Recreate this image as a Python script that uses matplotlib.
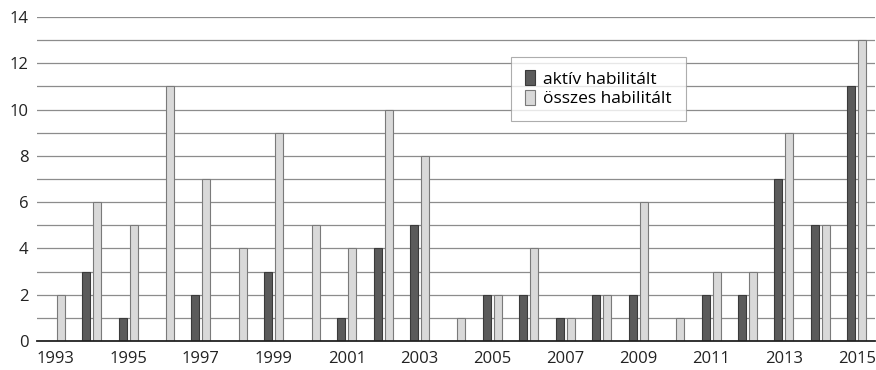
import numpy as np
import matplotlib.pyplot as plt

plt.rcParams['font.family'] = ['Open Sans', 'DejaVu Sans']

# adatok
evek = list(range(1993, 2016))
aktiv = [0, 3, 1, 0, 2, 0, 3, 0, 1, 4, 5, 0, 2, 2, 1, 2, 2, 0, 2, 2, 7, 5, 11]
osszes = [2, 6, 5, 11, 7, 4, 9, 5, 4, 10, 8, 1, 2, 4, 1, 2, 6, 1, 3, 3, 9, 5, 13]

x = np.arange(len(evek))
w = 0.22

fig = plt.figure(figsize=(8.76, 3.70), dpi=100)
ax = fig.add_axes([37 / 876, 29 / 370, 838 / 876, 324 / 370])

ax.bar(x - 0.15, aktiv, width=w, color='#5b5b5b', edgecolor='#3a3a3a',
       linewidth=0.8, label='aktív habilitált', zorder=3)
ax.bar(x + 0.15, osszes, width=w, color='#d9d9d9', edgecolor='#7a7a7a',
       linewidth=0.8, label='összes habilitált', zorder=3)

ax.set_xlim(-0.5, len(evek) - 0.5)
ax.set_ylim(0, 14)
ax.set_yticks(range(0, 15, 2))
ax.set_yticks(range(0, 15), minor=True)
ax.set_xticks(x[::2])
ax.set_xticklabels([str(e) for e in evek[::2]])
ax.grid(axis='y', which='both', color='#8c8c8c', linewidth=0.9, zorder=0)
ax.tick_params(axis='both', length=0, labelsize=12, colors='#222222')
ax.tick_params(axis='y', which='minor', length=0)
ax.tick_params(axis='y', pad=6)
ax.tick_params(axis='x', pad=7)

for s in ['top', 'right', 'left']:
    ax.spines[s].set_visible(False)
ax.spines['bottom'].set_color('#222222')
ax.spines['bottom'].set_linewidth(1.3)
ax.spines['bottom'].set_zorder(4)

leg = ax.legend(loc='upper left', bbox_to_anchor=(0.566, 0.878), frameon=True,
                fancybox=False, fontsize=12.5, handlelength=0.55, handleheight=0.9,
                handletextpad=0.5, borderpad=0.8, labelspacing=0.15,
                borderaxespad=0)
leg.get_frame().set_edgecolor('#999999')
leg.get_frame().set_linewidth(0.8)

fig.savefig('out.png', dpi=100)
